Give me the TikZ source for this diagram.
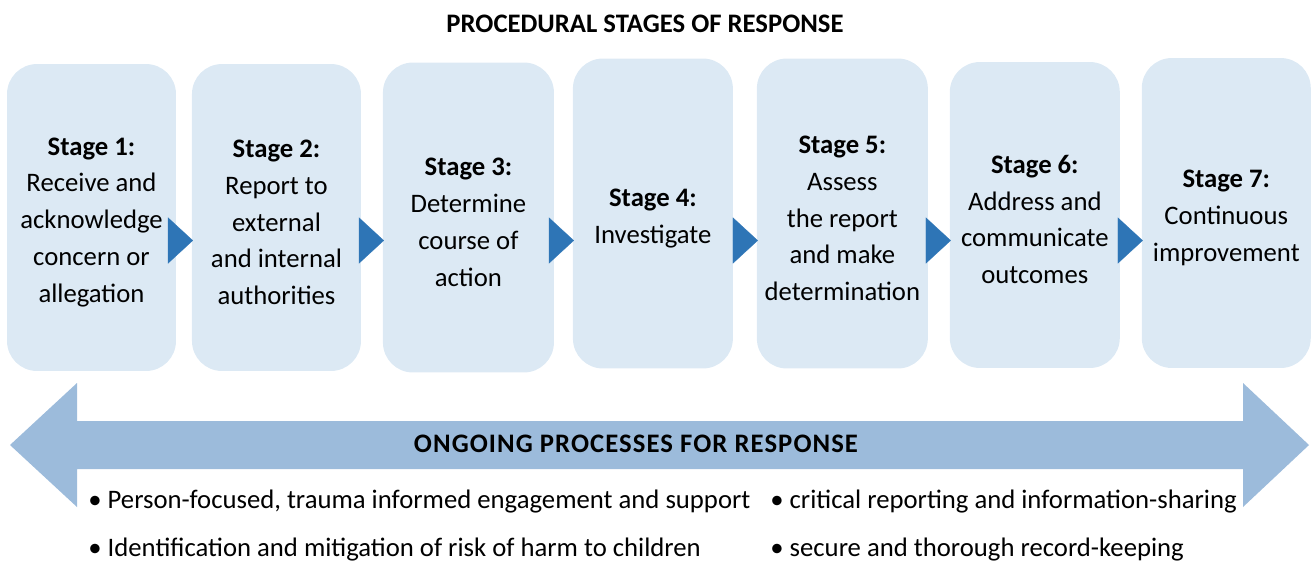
\documentclass[tikz,border=0pt]{standalone}
\usepackage{fontspec}
\setmainfont{Carlito}
\usetikzlibrary{positioning,arrows.meta}

\definecolor{boxblue}{HTML}{DCE9F4}
\definecolor{tipblue}{HTML}{2E75B6}
\definecolor{bandblue}{HTML}{9CBBDB}

\newcommand{\stagehead}[1]{\rule{0pt}{15.5pt}\textbf{Stage #1:}}

\tikzset{
  stage/.style={fill=boxblue, rounded corners=0.6cm, align=center, inner sep=0pt, outer sep=0pt,
    minimum width=3.38cm, minimum height=6.2cm, font=\fontsize{15.2}{21}\selectfont},
  flow/.style={draw=tipblue, line width=0.1pt, -{Triangle[length=0.5cm,width=0.92cm]}, shorten >=-0.02cm},
  heading/.style={anchor=base, inner sep=0pt, font=\fontsize{15.2}{18}\selectfont\bfseries},
  item/.style={anchor=base west, inner sep=0pt, font=\fontsize{15.2}{18}\selectfont}
}

\begin{document}
\begin{tikzpicture}[x=0.02cm, y=-0.02cm]
      \useasboundingbox (0,0) rectangle (1311,562);
      % Define nodes
      \node[heading] (title) at (645,32) {PROCEDURAL STAGES OF RESPONSE};
      \node[stage, minimum height=6.14cm] (s1) at (91.5,217.5) {\stagehead{1}\\Receive and\\acknowledge\\concern or\\allegation};
      \node[stage, minimum height=6.14cm, right=0.32cm of s1] (s2) {\stagehead{2}\\Report to\\external\\and internal\\authorities};
      \node[stage, minimum width=3.42cm, right=0.44cm of s2] (s3) {\stagehead{3}\\Determine\\course of\\action};
      \node[stage, minimum width=3.2cm, right=0.38cm of s3, yshift=0.08cm] (s4) {\stagehead{4}\\Investigate};
      \node[stage, minimum width=3.42cm, right=0.48cm of s4] (s5) {\stagehead{5}\\Assess\\the report\\and make\\determination};
      \node[stage, minimum width=3.4cm, minimum height=6.12cm, right=0.44cm of s5, yshift=-0.03cm] (s6) {\stagehead{6}\\Address and\\communicate\\outcomes};
      \node[stage, right=0.44cm of s6, yshift=0.04cm] (s7) {\stagehead{7}\\Continuous\\improvement};
      % Connect nodes
      \coordinate (mid) at (0,240.5);
      \draw[flow] (s1.east |- mid) -- (s2.west |- mid);
      \draw[flow] (s2.east |- mid) -- (s3.west |- mid);
      \draw[flow] (s3.east |- mid) -- (s4.west |- mid);
      \draw[flow] (s4.east |- mid) -- (s5.west |- mid);
      \draw[flow] (s5.east |- mid) -- (s6.west |- mid);
      \draw[flow] (s6.east |- mid) -- (s7.west |- mid);
      % Ongoing band
      \fill[bandblue] (10,445) -- (77,383) -- (77,421) -- (1243,421) -- (1243,383) -- (1309,445)
        -- (1243,507) -- (1243,469) -- (77,469) -- (77,507) -- cycle;
      \node[heading, font=\fontsize{15.2}{18}\selectfont\bfseries\addfontfeatures{LetterSpace=4}] (ongoing) at (636,452) {ONGOING PROCESSES FOR RESPONSE};
      \node[item] (b1) at (88,508) {\textbullet\ Person-focused, trauma informed engagement and support};
      \node[item] (b2) at (88,556) {\textbullet\ Identification and mitigation of risk of harm to children};
      \node[item] (b3) at (770,508) {\textbullet\ critical reporting and information-sharing};
      \node[item] (b4) at (770,556) {\textbullet\ secure and thorough record-keeping};
    \end{tikzpicture}
\end{document}
